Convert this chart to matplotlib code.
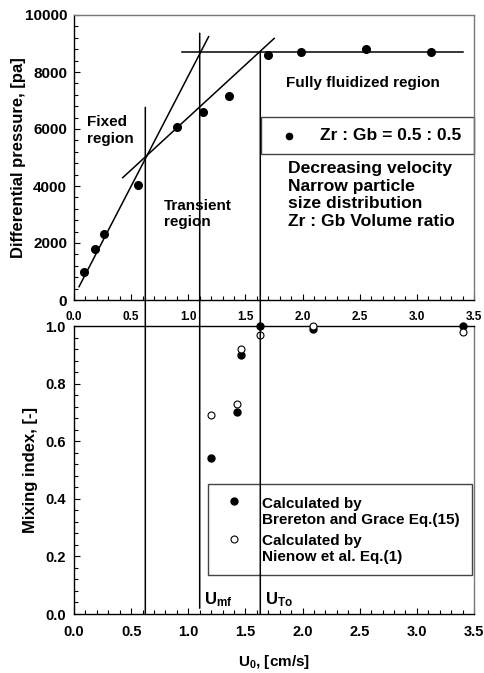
import matplotlib
matplotlib.use("Agg")
import matplotlib.pyplot as plt
from matplotlib.patches import Rectangle, ConnectionPatch
from matplotlib.ticker import MultipleLocator

plt.rcParams['font.family'] = ['Liberation Sans', 'DejaVu Sans']
plt.rcParams['font.weight'] = 'bold'
plt.rcParams['mathtext.fontset'] = 'custom'
plt.rcParams['mathtext.rm'] = 'Liberation Sans:bold'
plt.rcParams['mathtext.it'] = 'Liberation Sans:bold'
plt.rcParams['mathtext.bf'] = 'Liberation Sans:bold'

# ---- data: differential pressure (top panel) ----
u_dp = [0.09, 0.18, 0.265, 0.557, 0.898, 1.129, 1.356, 1.70, 1.986, 2.555, 3.12]
dp = [1000, 1800, 2300, 4040, 6060, 6600, 7170, 8600, 8690, 8790, 8690]

# fitted guide lines (endpoints)
fit1_u = [0.044, 1.178]
fit1_p = [467, 9240]
fit2_u = [0.426, 1.752]
fit2_p = [4291, 9180]
flat_u = [0.942, 3.40]
flat_p = [8713, 8713]

# vertical boundary lines: x, top end (pa), bottom end (mixing index)
v_u = [0.624, 1.10, 1.63]
v_top = [6760, 9360, 8700]
v_bot = [0.0, 0.02, 0.0]

# ---- data: mixing index (bottom panel) ----
u_mi = [1.20, 1.43, 1.46, 1.63, 2.09, 3.40]
mi_brereton = [0.54, 0.70, 0.90, 1.00, 0.99, 1.00]
mi_nienow = [0.69, 0.73, 0.92, 0.97, 1.00, 0.98]

W, H = 484, 673
fig = plt.figure(figsize=(W / 100, H / 100), dpi=100)

def ax_rect(l, t, r, b):
    return [l / W, 1 - b / H, (r - l) / W, (b - t) / H]

ax1 = fig.add_axes(ax_rect(74, 15, 474, 300))
ax2 = fig.add_axes(ax_rect(74, 326, 474, 614))

for ax in (ax1, ax2):
    ax.set_xlim(0, 3.5)
    ax.xaxis.set_major_locator(MultipleLocator(0.5))
    ax.xaxis.set_minor_locator(MultipleLocator(0.1))
    ax.tick_params(which='both', direction='in', top=False, right=False, width=0.8)
    ax.tick_params(which='major', length=4)
    ax.tick_params(which='minor', length=3)
    for s in ('top', 'right'):
        ax.spines[s].set_color('#777777')
    for s in ax.spines.values():
        s.set_linewidth(1.0)

# top panel
ax1.set_ylim(0, 10000)
ax1.yaxis.set_major_locator(MultipleLocator(2000))
ax1.yaxis.set_minor_locator(MultipleLocator(400))
ax1.tick_params(axis='y', labelsize=11, pad=5)
ax1.tick_params(axis='x', labelsize=8.5, pad=8)
ax1.set_ylabel('Differential pressure, [pa]', fontsize=12, fontweight='bold')
ax1.yaxis.set_label_coords(-0.12, 0.5)

ax1.plot(u_dp, dp, 'o', color='black', markersize=5.5, zorder=3)
ax1.plot(fit1_u, fit1_p, color='black', lw=1.1)
ax1.plot(fit2_u, fit2_p, color='black', lw=1.1)
ax1.plot(flat_u, flat_p, color='black', lw=1.1)

ax1.text(0.111, 6480, 'Fixed\nregion', fontsize=11, fontweight='bold', va='top', ha='left', linespacing=1.2)
ax1.text(0.79, 3560, 'Transient\nregion', fontsize=11, fontweight='bold', va='top', ha='left', linespacing=1.2)
ax1.text(1.855, 7614, 'Fully fluidized region', fontsize=11, fontweight='bold', va='center', ha='left')
ax1.text(1.87, 4880, 'Decreasing velocity\nNarrow particle\nsize distribution\nZr : Gb Volume ratio',
         fontsize=12.6, fontweight='bold', va='top', ha='left', linespacing=1.22)

# top legend box
ax1.add_patch(Rectangle((0.467, 0.512), 0.533, 0.129, transform=ax1.transAxes,
                        fill=False, edgecolor='#444444', lw=1.0, clip_on=False))
ax1.plot([0.538], [0.577], 'o', color='black', markersize=4.5, transform=ax1.transAxes)
ax1.text(0.615, 0.577, 'Zr : Gb = 0.5 : 0.5', transform=ax1.transAxes, fontsize=12.5,
         fontweight='bold', va='center', ha='left')

# bottom panel
ax2.set_ylim(0, 1.0)
ax2.yaxis.set_major_locator(MultipleLocator(0.2))
ax2.yaxis.set_minor_locator(MultipleLocator(0.04))
ax2.tick_params(axis='both', labelsize=10.5)
ax2.tick_params(axis='x', pad=8)
ax2.tick_params(axis='y', pad=6)
ax2.spines['top'].set_color('black')
ax2.set_ylabel('Mixing index, [-]', fontsize=12, fontweight='bold')
ax2.yaxis.set_label_coords(-0.091, 0.5)
ax2.set_xlabel('U$_0$, [cm/s]', fontsize=11, fontweight='bold', labelpad=10)

ax2.plot(u_mi, mi_brereton, 'o', color='black', markersize=5, zorder=3, clip_on=False)
ax2.plot(u_mi, mi_nienow, 'o', markerfacecolor='white', markeredgecolor='black',
         markeredgewidth=0.8, markersize=5, zorder=4, clip_on=False)

ax2.text(1.14, 0.05, 'U$_{mf}$', fontsize=12, va='center', ha='left')
ax2.text(1.67, 0.05, 'U$_{To}$', fontsize=12, va='center', ha='left')

# bottom legend
ax2.add_patch(Rectangle((0.336, 0.135), 0.66, 0.316, transform=ax2.transAxes,
                        fill=True, facecolor='white', edgecolor='#444444', lw=1.0, zorder=5))
ax2.plot([0.40], [0.392], 'o', color='black', markersize=5, transform=ax2.transAxes, zorder=6)
ax2.plot([0.40], [0.259], 'o', markerfacecolor='white', markeredgecolor='black',
         markeredgewidth=0.8, markersize=5, transform=ax2.transAxes, zorder=6)
ax2.text(0.469, 0.353, 'Calculated by\nBrereton and Grace Eq.(15)', transform=ax2.transAxes,
         fontsize=11, fontweight='bold', va='center', ha='left', linespacing=1.2, zorder=6)
ax2.text(0.469, 0.226, 'Calculated by\nNienow et al. Eq.(1)', transform=ax2.transAxes,
         fontsize=11, fontweight='bold', va='center', ha='left', linespacing=1.2, zorder=6)

# vertical boundary lines spanning both panels
for x, yt, yb in zip(v_u, v_top, v_bot):
    cp = ConnectionPatch(xyA=(x, yt), coordsA=ax1.transData, xyB=(x, yb), coordsB=ax2.transData,
                         color='black', lw=1.1, zorder=4)
    fig.add_artist(cp)

fig.savefig('out.png', dpi=100)
